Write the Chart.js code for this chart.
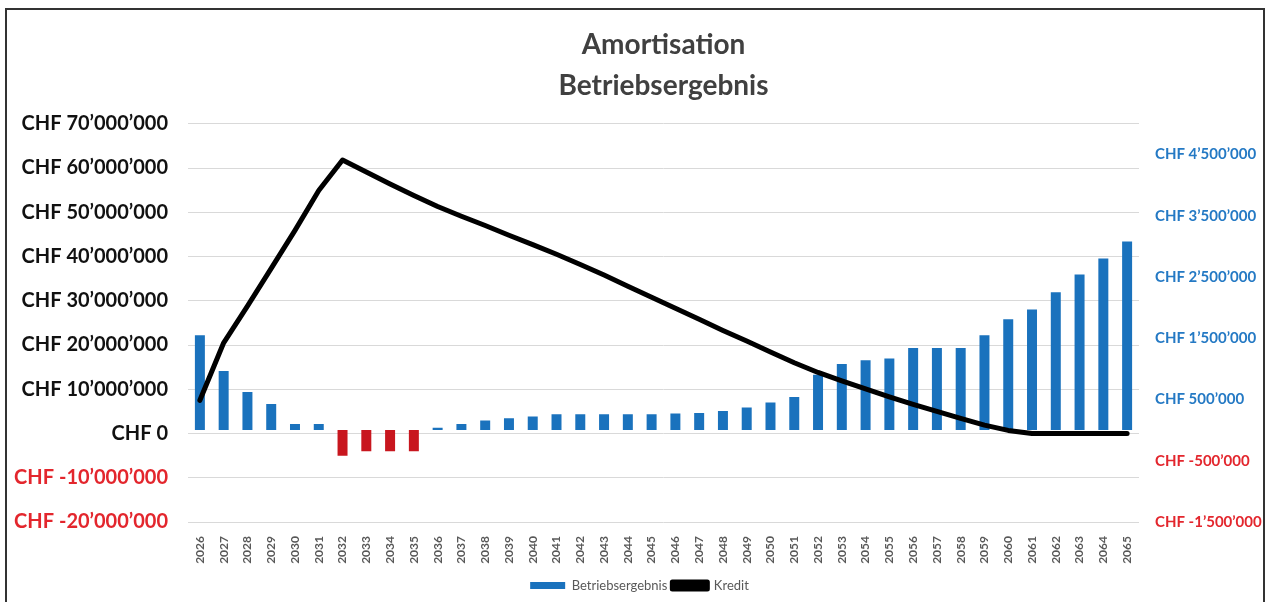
<!DOCTYPE html>
<html>
<head>
<meta charset="utf-8">
<script src="https://cdn.jsdelivr.net/npm/chart.js@4"></script>
<style>
  html, body { margin: 0; padding: 0; background: #fff; }
  #wrap { position: relative; width: 1269px; height: 602px; }
  #rahmen { position: absolute; left: 5px; top: 8px; width: 1260px; height: 600px;
            border: 2px solid #333; box-sizing: border-box; pointer-events: none; }
</style>
</head>
<body>
<div id="wrap">
  <canvas id="grafik" width="1269" height="602"></canvas>
  <div id="rahmen"></div>
</div>
<script>
const jahre = ['2026','2027','2028','2029','2030','2031','2032','2033','2034','2035',
  '2036','2037','2038','2039','2040','2041','2042','2043','2044','2045',
  '2046','2047','2048','2049','2050','2051','2052','2053','2054','2055',
  '2056','2057','2058','2059','2060','2061','2062','2063','2064','2065'];

// Betriebsergebnis, rechte Achse
const betriebsergebnis = [1550000, 965000, 620000, 425000, 100000, 100000, -420000, -345000, -345000, -345000,
  40000, 100000, 155000, 195000, 220000, 260000, 260000, 260000, 260000, 260000,
  270000, 280000, 310000, 370000, 450000, 540000, 905000, 1080000, 1140000, 1170000,
  1340000, 1340000, 1340000, 1550000, 1810000, 1970000, 2250000, 2540000, 2800000, 3080000];

// Kredit, linke Achse
const kredit = [7500000, 20500000, 28800000, 37300000, 45900000, 54900000, 61800000, 59100000, 56400000, 53800000,
  51300000, 49100000, 47000000, 44800000, 42700000, 40500000, 38200000, 35800000, 33300000, 30800000,
  28300000, 25800000, 23300000, 20900000, 18400000, 16000000, 13800000, 11900000, 10100000, 8300000,
  6600000, 5000000, 3400000, 1900000, 700000, 0, 0, 0, 0, 0];

const rechteTicks = [-1500000, -500000, 500000, 1500000, 2500000, 3500000, 4500000];

const blau = '#1a72bd';
const rotBalken = '#c8161e';
const rotText = '#e3262d';
const blauText = '#2479c4';

function chf(v) {
  return 'CHF ' + Math.round(v).toString().replace(/\B(?=(\d{3})+(?!\d))/g, '\u2019');
}

const ctx = document.getElementById('grafik').getContext('2d');

new Chart(ctx, {
  type: 'bar',
  data: {
    labels: jahre,
    datasets: [{
      label: 'Betriebsergebnis',
      data: betriebsergebnis,
      yAxisID: 'yRechts',
      backgroundColor: (c) => (c.raw < 0 ? rotBalken : blau),
      borderWidth: 0,
      barPercentage: 0.42,
      categoryPercentage: 1,
      order: 1
    }, {
      type: 'line',
      label: 'Kredit',
      data: kredit,
      yAxisID: 'yLinks',
      borderColor: '#000',
      backgroundColor: '#000',
      borderWidth: 5,
      borderCapStyle: 'round',
      borderJoinStyle: 'round',
      pointRadius: 0,
      tension: 0,
      order: 0
    }]
  },
  options: {
    responsive: false,
    animation: false,
    layout: { padding: { top: 14, left: 10, right: 0, bottom: 0 } },
    plugins: {
      title: {
        display: true,
        fullSize: false,
        text: ['Amortisation', 'Betriebsergebnis'],
        color: '#404040',
        font: { family: 'Lato', size: 28, weight: 'bold', lineHeight: 1.46 },
        padding: { top: 11, bottom: 17 }
      },
      legend: {
        position: 'bottom',
        labels: {
          color: '#595959',
          font: { family: 'Lato', size: 13 },
          boxWidth: 35,
          boxHeight: 7,
          padding: 5,
          sort: (a, b) => a.datasetIndex - b.datasetIndex
        }
      },
      tooltip: { enabled: false }
    },
    scales: {
      x: {
        grid: { display: false },
        border: { display: false },
        ticks: {
          color: '#595959',
          font: { family: 'Lato', size: 12, weight: 'bold' },
          minRotation: 90,
          maxRotation: 90,
          padding: 6
        },
        afterFit: (s) => { s.height = 52; }
      },
      yLinks: {
        position: 'left',
        min: -20000000,
        max: 70000000,
        border: { display: false },
        grid: { color: '#d9d9d9', lineWidth: 1, drawTicks: false },
        ticks: {
          stepSize: 10000000,
          padding: 20,
          font: { family: 'Lato', size: 20, weight: 'bold' },
          color: (c) => (c.tick && c.tick.value < 0 ? rotText : '#111'),
          callback: (v) => chf(v)
        },
        afterFit: (s) => { s.width = 178; }
      },
      yRechts: {
        position: 'right',
        min: -1500000,
        max: 5000000,
        border: { display: false },
        grid: { display: false, drawTicks: false },
        afterBuildTicks: (s) => { s.ticks = rechteTicks.map((v) => ({ value: v })); },
        ticks: {
          padding: 16,
          font: { family: 'Lato', size: 15, weight: 'bold' },
          color: (c) => (c.tick && c.tick.value < 0 ? rotText : blauText),
          callback: (v) => chf(v)
        },
        afterFit: (s) => { s.width = 130; }
      }
    }
  }
});
</script>
</body>
</html>
